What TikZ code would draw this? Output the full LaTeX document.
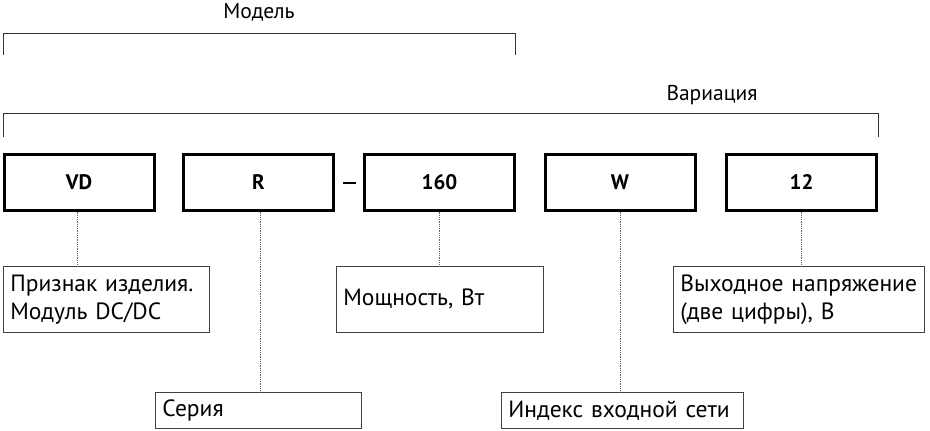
\documentclass[tikz,border=0pt]{standalone}
\usepackage{fontspec}
\setmainfont{PT Sans}
\begin{document}
\begin{tikzpicture}[x=1pt,y=-1pt,
  code/.style={draw,line width=3pt,minimum width=150pt,minimum height=56pt,font=\fontsize{21}{24}\selectfont\bfseries},
  note/.style={draw=black!75,line width=0.8pt,anchor=north west,align=left,inner sep=7pt,text width=#1,font=\fontsize{23.5}{28}\selectfont},
  lead/.style={black!60,densely dotted,line width=0.8pt},
  brace/.style={line width=0.8pt,black!80}]
\useasboundingbox (0,0) rectangle (930,431);
\node[code] (vd) at (79,182) {VD};
\node[code] (r) at (258.5,182) {R};
\node[code] (p) at (439.5,182) {160};
\node[code] (w) at (620,182) {W};
\node[code] (u) at (801.5,182) {12};
\draw[line width=2.5pt] (343,183) -- (356,183);
% brackets
\draw[brace] (3,55) -- (3,33) -- (515,33) -- (515,55);
\node[font=\fontsize{21.5}{24}\selectfont] (model) at (259,12) {Модель};
\draw[brace] (3,137) -- (3,113) -- (878,113) -- (878,137);
\node[font=\fontsize{21.5}{24}\selectfont] (var) at (712,95) {Вариация};
% notes
\node[note=192pt,minimum height=66pt] (n1) at (3,266) {Признак изделия.\\Модуль DC/DC};
\node[note=192pt,minimum height=36pt] (n2) at (155,392) {Серия};
\node[note=193pt,minimum height=66pt] (n3) at (336,266) {Мощность, Вт};
\node[note=228pt,minimum height=36pt] (n4) at (501,392) {Индекс входной сети};
\node[note=237pt,minimum height=66pt] (n5) at (673,266) {Выходное напряжение\\(две цифры), В};
\draw[lead] (vd.south -| 77,0) -- (n1.north -| 77,0);
\draw[lead] (r.south -| 260,0) -- (n2.north -| 260,0);
\draw[lead] (p.south) -- (n3.north -| p.south);
\draw[lead] (w.south) -- (n4.north -| w.south);
\draw[lead] (u.south) -- (n5.north -| u.south);
\end{tikzpicture}
\end{document}
